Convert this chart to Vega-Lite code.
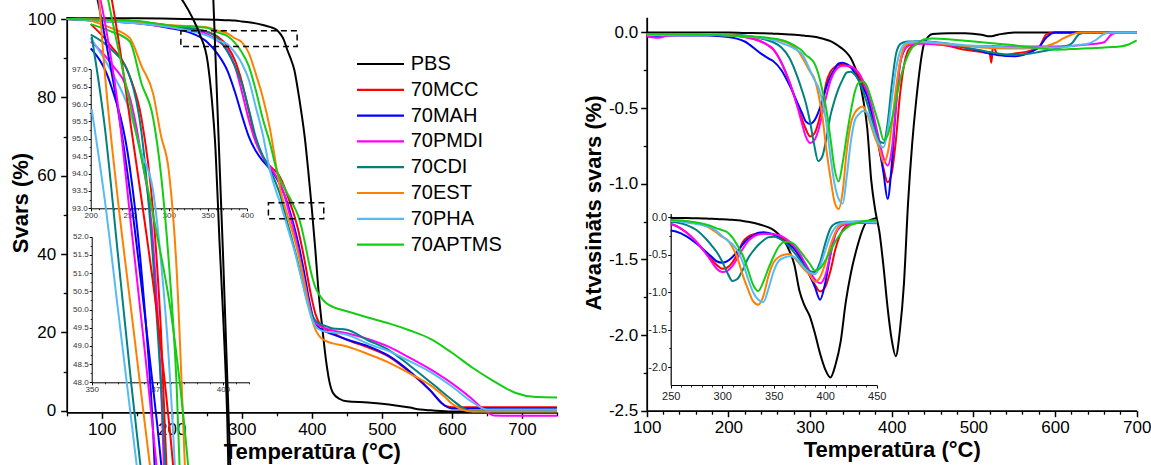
{
"$schema": "https://vega.github.io/schema/vega-lite/v6.json",
"width": 1151, "height": 465, "padding": 0,
"autosize": {"type": "none"},
"config": {
  "view": {"stroke": null},
  "font": "Liberation Sans",
  "axis": {"grid": false, "labelFont": "Liberation Sans", "titleFont": "Liberation Sans", "labelColor": "#000", "titleColor": "#000", "domainColor": "#000", "tickColor": "#000", "labelFlush": false, "labelOverlap": false, "labelBound": false, "titleFontWeight": "bold"}
},
"datasets": {
"tga": [
{"T":50,"PBS":100.3,"70MCC":100,"70MAH":100,"70PMDI":100,"70CDI":100,"70EST":100,"70PHA":100,"70APTMS":100},
{"T":100,"PBS":100.2,"70MCC":99.8,"70MAH":99.5,"70PMDI":99.5,"70CDI":99.8,"70EST":99.8,"70PHA":99.5,"70APTMS":99.8},
{"T":150,"PBS":100.2,"70MCC":99.4,"70MAH":98.9,"70PMDI":99.0,"70CDI":99.4,"70EST":99.3,"70PHA":98.9,"70APTMS":99.5},
{"T":200,"PBS":100.1,"70MCC":98.3,"70MAH":97.6,"70PMDI":97.8,"70CDI":98.0,"70EST":98.4,"70PHA":97.9,"70APTMS":98.3},
{"T":225,"PBS":100.0,"70MCC":97.7,"70MAH":96.6,"70PMDI":97.2,"70CDI":97.6,"70EST":98.2,"70PHA":97.0,"70APTMS":98.1},
{"T":250,"PBS":99.9,"70MCC":96.8,"70MAH":94.2,"70PMDI":96.2,"70CDI":96.8,"70EST":97.9,"70PHA":95.8,"70APTMS":97.8},
{"T":265,"PBS":99.8,"70MCC":95.6,"70MAH":91.2,"70PMDI":94.5,"70CDI":95.2,"70EST":97.1,"70PHA":94.6,"70APTMS":96.6},
{"T":280,"PBS":99.7,"70MCC":92.9,"70MAH":86.6,"70PMDI":92.0,"70CDI":91.5,"70EST":96.3,"70PHA":93.5,"70APTMS":95.6},
{"T":290,"PBS":99.6,"70MCC":89.5,"70MAH":81.5,"70PMDI":88.0,"70CDI":88.0,"70EST":95.1,"70PHA":91.5,"70APTMS":94.0},
{"T":300,"PBS":99.4,"70MCC":84.0,"70MAH":75.5,"70PMDI":81.5,"70CDI":83.5,"70EST":94.1,"70PHA":88.7,"70APTMS":91.5},
{"T":310,"PBS":99.2,"70MCC":76.5,"70MAH":70.0,"70PMDI":74.3,"70CDI":77.0,"70EST":91.3,"70PHA":84.5,"70APTMS":88.0},
{"T":320,"PBS":98.9,"70MCC":69.2,"70MAH":66.3,"70PMDI":68.5,"70CDI":69.8,"70EST":86.0,"70PHA":77.5,"70APTMS":81.8},
{"T":330,"PBS":98.5,"70MCC":65.0,"70MAH":63.8,"70PMDI":64.8,"70CDI":65.0,"70EST":80.0,"70PHA":70.5,"70APTMS":74.5},
{"T":340,"PBS":98.0,"70MCC":62.5,"70MAH":61.8,"70PMDI":62.3,"70CDI":61.5,"70EST":72.2,"70PHA":61.5,"70APTMS":68.5},
{"T":350,"PBS":97.2,"70MCC":60.8,"70MAH":59.3,"70PMDI":59.6,"70CDI":57.5,"70EST":61.5,"70PHA":55.5,"70APTMS":61.3},
{"T":355,"PBS":96.2,"70MCC":59.5,"70MAH":57.5,"70PMDI":57.9,"70CDI":55.0,"70EST":56.5,"70PHA":53.0,"70APTMS":59.0},
{"T":360,"PBS":94.7,"70MCC":57.5,"70MAH":55.5,"70PMDI":55.6,"70CDI":51.5,"70EST":53.0,"70PHA":50.0,"70APTMS":57.2},
{"T":365,"PBS":92.1,"70MCC":55.0,"70MAH":53.0,"70PMDI":52.3,"70CDI":48.0,"70EST":50.0,"70PHA":47.0,"70APTMS":55.5},
{"T":370,"PBS":89.8,"70MCC":52.5,"70MAH":50.0,"70PMDI":49.0,"70CDI":44.8,"70EST":47.0,"70PHA":44.0,"70APTMS":53.8},
{"T":375,"PBS":87.0,"70MCC":49.8,"70MAH":46.8,"70PMDI":45.5,"70CDI":41.5,"70EST":44.0,"70PHA":41.0,"70APTMS":52.0},
{"T":380,"PBS":82.0,"70MCC":46.5,"70MAH":43.2,"70PMDI":41.5,"70CDI":38.0,"70EST":40.5,"70PHA":37.5,"70APTMS":50.0},
{"T":385,"PBS":76.2,"70MCC":42.5,"70MAH":39.0,"70PMDI":37.0,"70CDI":34.2,"70EST":36.5,"70PHA":33.8,"70APTMS":47.0},
{"T":390,"PBS":69.6,"70MCC":38.0,"70MAH":34.3,"70PMDI":32.5,"70CDI":30.4,"70EST":32.0,"70PHA":30.0,"70APTMS":43.0},
{"T":395,"PBS":61.0,"70MCC":33.0,"70MAH":29.3,"70PMDI":28.0,"70CDI":27.0,"70EST":27.5,"70PHA":26.5,"70APTMS":38.5},
{"T":400,"PBS":51.5,"70MCC":28.5,"70MAH":25.0,"70PMDI":24.5,"70CDI":24.5,"70EST":23.5,"70PHA":23.5,"70APTMS":34.5},
{"T":405,"PBS":41.0,"70MCC":24.8,"70MAH":22.3,"70PMDI":22.5,"70CDI":23.0,"70EST":20.8,"70PHA":21.6,"70APTMS":31.5},
{"T":410,"PBS":29.5,"70MCC":22.6,"70MAH":21.2,"70PMDI":21.8,"70CDI":22.3,"70EST":19.2,"70PHA":20.8,"70APTMS":29.8},
{"T":415,"PBS":21.0,"70MCC":21.5,"70MAH":20.6,"70PMDI":21.3,"70CDI":21.9,"70EST":18.3,"70PHA":20.4,"70APTMS":28.5},
{"T":420,"PBS":13.2,"70MCC":20.8,"70MAH":20.2,"70PMDI":21.0,"70CDI":21.6,"70EST":17.8,"70PHA":20.2,"70APTMS":27.6},
{"T":425,"PBS":7.5},
{"T":430,"PBS":4.6,"70MCC":19.8,"70MAH":19.5,"70PMDI":20.5,"70CDI":21.0,"70EST":17.2,"70PHA":20.0,"70APTMS":26.5},
{"T":440,"PBS":3.0},
{"T":450,"PBS":2.4,"70MCC":18.1,"70MAH":18.2,"70PMDI":19.8,"70CDI":20.7,"70EST":16.4,"70PHA":19.4,"70APTMS":25.4},
{"T":480,"PBS":2.1,"70MCC":16.2,"70MAH":16.5,"70PMDI":18.3,"70CDI":18.0,"70EST":14.5,"70PHA":17.1,"70APTMS":23.8},
{"T":510,"PBS":1.6,"70MCC":13.8,"70MAH":14.0,"70PMDI":16.3,"70CDI":15.5,"70EST":12.3,"70PHA":15.2,"70APTMS":22.3},
{"T":540,"PBS":0.8,"70MCC":9.8,"70MAH":10.0,"70PMDI":13.5,"70CDI":11.5,"70EST":9.5,"70PHA":12.6,"70APTMS":20.5},
{"T":555,"PBS":0.3},
{"T":570,"PBS":0.1,"70MCC":5.0,"70MAH":5.0,"70PMDI":10.5,"70CDI":7.2,"70EST":6.4,"70PHA":9.8,"70APTMS":18.3},
{"T":585,"70MAH":2.0},
{"T":590,"70MCC":1.3,"70EST":3.5},
{"T":600,"PBS":-0.2,"70MCC":0.9,"70MAH":0.6,"70PMDI":7.0,"70CDI":2.8,"70EST":1.8,"70PHA":6.2,"70APTMS":14.8},
{"T":605,"70EST":1.2},
{"T":615,"70CDI":0.8},
{"T":620,"70EST":0.0},
{"T":630,"PBS":-0.2,"70MCC":0.9,"70MAH":0.6,"70PMDI":2.8,"70CDI":-0.2,"70EST":-0.2,"70PHA":2.1,"70APTMS":10.9},
{"T":645,"70PMDI":0.3},
{"T":650,"70PHA":0.3},
{"T":660,"PBS":-0.2,"70MCC":0.9,"70MAH":0.6,"70PMDI":-1.2,"70CDI":-0.2,"70EST":-0.2,"70PHA":0.3,"70APTMS":7.5},
{"T":690,"PBS":-0.2,"70MCC":0.9,"70MAH":0.6,"70PMDI":-1.3,"70CDI":-0.2,"70EST":-0.2,"70PHA":0.3,"70APTMS":4.6},
{"T":720,"PBS":-0.2,"70MCC":0.9,"70MAH":0.6,"70PMDI":-1.3,"70CDI":-0.2,"70EST":-0.2,"70PHA":0.3,"70APTMS":3.5},
{"T":750,"PBS":-0.2,"70MCC":0.9,"70MAH":0.6,"70PMDI":-1.3,"70CDI":-0.2,"70EST":-0.2,"70PHA":0.3,"70APTMS":3.4}
],
"dtg": [
{"T":100,"PBS":0,"70MCC":-0.01,"70MAH":-0.025,"70PMDI":-0.025,"70CDI":-0.01,"70EST":-0.01,"70PHA":-0.015,"70APTMS":-0.01},
{"T":115,"PBS":0,"70MCC":-0.012,"70MAH":-0.03,"70PMDI":-0.035,"70CDI":-0.012,"70EST":-0.01,"70PHA":-0.018,"70APTMS":-0.01},
{"T":125,"PBS":0,"70MCC":-0.015,"70MAH":-0.02,"70PMDI":-0.02,"70CDI":-0.01,"70EST":-0.01,"70PHA":-0.015,"70APTMS":-0.01},
{"T":150,"PBS":0,"70MCC":-0.012,"70MAH":-0.02,"70PMDI":-0.015,"70CDI":-0.01,"70EST":-0.01,"70PHA":-0.015,"70APTMS":-0.012},
{"T":175,"PBS":0,"70MCC":-0.012,"70MAH":-0.02,"70PMDI":-0.015,"70CDI":-0.01,"70EST":-0.01,"70PHA":-0.015,"70APTMS":-0.015},
{"T":200,"PBS":0,"70MCC":-0.018,"70MAH":-0.03,"70PMDI":-0.02,"70CDI":-0.015,"70EST":-0.015,"70PHA":-0.02,"70APTMS":-0.02},
{"T":220,"PBS":-0.003,"70MCC":-0.03,"70MAH":-0.06,"70PMDI":-0.03,"70CDI":-0.02,"70EST":-0.025,"70PHA":-0.025,"70APTMS":-0.025},
{"T":240,"PBS":-0.005,"70MCC":-0.06,"70MAH":-0.14,"70PMDI":-0.06,"70CDI":-0.04,"70EST":-0.035,"70PHA":-0.035,"70APTMS":-0.03},
{"T":250,"PBS":-0.007,"70MCC":-0.09,"70MAH":-0.175,"70PMDI":-0.09,"70CDI":-0.055,"70EST":-0.042,"70PHA":-0.045,"70APTMS":-0.037},
{"T":255,"PBS":-0.008,"70MCC":-0.114,"70MAH":-0.19,"70PMDI":-0.11,"70CDI":-0.065,"70EST":-0.045,"70PHA":-0.05,"70APTMS":-0.04},
{"T":265,"PBS":-0.01,"70MCC":-0.2,"70MAH":-0.25,"70PMDI":-0.2,"70CDI":-0.1,"70EST":-0.055,"70PHA":-0.07,"70APTMS":-0.05},
{"T":275,"PBS":-0.013,"70MCC":-0.33,"70MAH":-0.35,"70PMDI":-0.33,"70CDI":-0.17,"70EST":-0.075,"70PHA":-0.09,"70APTMS":-0.07},
{"T":285,"PBS":-0.017,"70MCC":-0.49,"70MAH":-0.47,"70PMDI":-0.5,"70CDI":-0.3,"70EST":-0.12,"70PHA":-0.12,"70APTMS":-0.1},
{"T":290,"PBS":-0.02,"70MCC":-0.57,"70MAH":-0.53,"70PMDI":-0.6,"70CDI":-0.38,"70EST":-0.16,"70PHA":-0.14,"70APTMS":-0.12},
{"T":295,"PBS":-0.023,"70MCC":-0.64,"70MAH":-0.59,"70PMDI":-0.69,"70CDI":-0.47,"70EST":-0.21,"70PHA":-0.19,"70APTMS":-0.15},
{"T":300,"PBS":-0.025,"70MCC":-0.687,"70MAH":-0.605,"70PMDI":-0.73,"70CDI":-0.59,"70EST":-0.26,"70PHA":-0.25,"70APTMS":-0.17},
{"T":305,"PBS":-0.028,"70MCC":-0.67,"70MAH":-0.585,"70PMDI":-0.715,"70CDI":-0.74,"70EST":-0.3,"70PHA":-0.31,"70APTMS":-0.2},
{"T":310,"PBS":-0.033,"70MCC":-0.6,"70MAH":-0.53,"70PMDI":-0.65,"70CDI":-0.85,"70EST":-0.4,"70PHA":-0.36,"70APTMS":-0.27},
{"T":315,"PBS":-0.04,"70MCC":-0.48,"70MAH":-0.45,"70PMDI":-0.54,"70CDI":-0.82,"70EST":-0.55,"70PHA":-0.45,"70APTMS":-0.38},
{"T":320,"PBS":-0.048,"70MCC":-0.33,"70MAH":-0.36,"70PMDI":-0.42,"70CDI":-0.7,"70EST":-0.775,"70PHA":-0.6,"70APTMS":-0.51},
{"T":325,"PBS":-0.058,"70MCC":-0.26,"70MAH":-0.29,"70PMDI":-0.32,"70CDI":-0.55,"70EST":-0.96,"70PHA":-0.82,"70APTMS":-0.7},
{"T":330,"PBS":-0.072,"70MCC":-0.23,"70MAH":-0.245,"70PMDI":-0.26,"70CDI":-0.45,"70EST":-1.12,"70PHA":-1.0,"70APTMS":-0.9},
{"T":335,"PBS":-0.09,"70MCC":-0.215,"70MAH":-0.205,"70PMDI":-0.23,"70CDI":-0.37,"70EST":-1.167,"70PHA":-1.1,"70APTMS":-0.985},
{"T":340,"PBS":-0.11,"70MCC":-0.213,"70MAH":-0.2,"70PMDI":-0.22,"70CDI":-0.31,"70EST":-1.05,"70PHA":-1.13,"70APTMS":-0.86},
{"T":345,"PBS":-0.135,"70MCC":-0.22,"70MAH":-0.21,"70PMDI":-0.22,"70CDI":-0.265,"70EST":-0.78,"70PHA":-0.95,"70APTMS":-0.68},
{"T":350,"PBS":-0.17,"70MCC":-0.23,"70MAH":-0.23,"70PMDI":-0.225,"70CDI":-0.26,"70EST":-0.6,"70PHA":-0.72,"70APTMS":-0.52},
{"T":355,"PBS":-0.23,"70MCC":-0.245,"70MAH":-0.27,"70PMDI":-0.24,"70CDI":-0.28,"70EST":-0.53,"70PHA":-0.58,"70APTMS":-0.39},
{"T":360,"PBS":-0.31,"70MCC":-0.29,"70MAH":-0.32,"70PMDI":-0.27,"70CDI":-0.32,"70EST":-0.5,"70PHA":-0.54,"70APTMS":-0.33},
{"T":365,"PBS":-0.44,"70MCC":-0.35,"70MAH":-0.37,"70PMDI":-0.32,"70CDI":-0.39,"70EST":-0.49,"70PHA":-0.52,"70APTMS":-0.325},
{"T":370,"PBS":-0.63,"70MCC":-0.42,"70MAH":-0.42,"70PMDI":-0.39,"70CDI":-0.47,"70EST":-0.54,"70PHA":-0.53,"70APTMS":-0.36},
{"T":375,"PBS":-0.98,"70MCC":-0.52,"70MAH":-0.52,"70PMDI":-0.48,"70CDI":-0.56,"70EST":-0.62,"70PHA":-0.6,"70APTMS":-0.44},
{"T":380,"PBS":-1.18,"70MCC":-0.64,"70MAH":-0.63,"70PMDI":-0.6,"70CDI":-0.65,"70EST":-0.7,"70PHA":-0.68,"70APTMS":-0.53},
{"T":385,"PBS":-1.32,"70MCC":-0.78,"70MAH":-0.77,"70PMDI":-0.72,"70CDI":-0.72,"70EST":-0.77,"70PHA":-0.74,"70APTMS":-0.62},
{"T":390,"PBS":-1.55,"70MCC":-0.9,"70MAH":-0.93,"70PMDI":-0.83,"70CDI":-0.73,"70EST":-0.86,"70PHA":-0.76,"70APTMS":-0.71},
{"T":395,"PBS":-1.82,"70MCC":-0.99,"70MAH":-1.1,"70PMDI":-0.88,"70CDI":-0.6,"70EST":-0.8,"70PHA":-0.65,"70APTMS":-0.68},
{"T":400,"PBS":-2.03,"70MCC":-0.93,"70MAH":-0.88,"70PMDI":-0.78,"70CDI":-0.35,"70EST":-0.62,"70PHA":-0.45,"70APTMS":-0.58},
{"T":405,"PBS":-2.14,"70MCC":-0.72,"70MAH":-0.5,"70PMDI":-0.5,"70CDI":-0.15,"70EST":-0.38,"70PHA":-0.25,"70APTMS":-0.45},
{"T":410,"PBS":-1.97,"70MCC":-0.42,"70MAH":-0.21,"70PMDI":-0.22,"70CDI":-0.08,"70EST":-0.2,"70PHA":-0.13,"70APTMS":-0.32},
{"T":415,"PBS":-1.66,"70MCC":-0.22,"70MAH":-0.12,"70PMDI":-0.12,"70CDI":-0.065,"70EST":-0.1,"70PHA":-0.08,"70APTMS":-0.22},
{"T":420,"PBS":-1.13,"70MCC":-0.12,"70MAH":-0.085,"70PMDI":-0.09,"70CDI":-0.06,"70EST":-0.075,"70PHA":-0.065,"70APTMS":-0.15},
{"T":425,"PBS":-0.74,"70MCC":-0.09,"70MAH":-0.065,"70PMDI":-0.08,"70CDI":-0.06,"70EST":-0.07,"70PHA":-0.062,"70APTMS":-0.1},
{"T":430,"PBS":-0.45,"70MCC":-0.075,"70MAH":-0.06,"70PMDI":-0.075,"70CDI":-0.06,"70EST":-0.065,"70PHA":-0.06,"70APTMS":-0.08},
{"T":440,"PBS":-0.07,"70MCC":-0.07,"70MAH":-0.06,"70PMDI":-0.075,"70CDI":-0.06,"70EST":-0.065,"70PHA":-0.062,"70APTMS":-0.045},
{"T":450,"PBS":-0.01,"70MCC":-0.075,"70MAH":-0.065,"70PMDI":-0.078,"70CDI":-0.063,"70EST":-0.07,"70PHA":-0.065,"70APTMS":-0.04},
{"T":470,"PBS":-0.005,"70MCC":-0.09,"70MAH":-0.08,"70PMDI":-0.085,"70CDI":-0.075,"70EST":-0.08,"70PHA":-0.075,"70APTMS":-0.045},
{"T":490,"PBS":-0.005,"70MCC":-0.115,"70MAH":-0.1,"70PMDI":-0.09,"70CDI":-0.1,"70EST":-0.09,"70PHA":-0.085,"70APTMS":-0.055},
{"T":510,"PBS":-0.015,"70MCC":-0.13,"70MAH":-0.125,"70PMDI":-0.09,"70CDI":-0.12,"70EST":-0.1,"70PHA":-0.09,"70APTMS":-0.065},
{"T":520,"PBS":-0.026,"70MCC":-0.14,"70MAH":-0.14,"70PMDI":-0.091,"70CDI":-0.13,"70EST":-0.103,"70PHA":-0.093,"70APTMS":-0.07},
{"T":522,"70MCC":-0.2},
{"T":524,"70MCC":-0.09},
{"T":530,"PBS":-0.015,"70MCC":-0.15,"70MAH":-0.15,"70PMDI":-0.092,"70CDI":-0.14,"70EST":-0.105,"70PHA":-0.095,"70APTMS":-0.075},
{"T":550,"PBS":0,"70MCC":-0.14,"70MAH":-0.158,"70PMDI":-0.093,"70CDI":-0.148,"70EST":-0.107,"70PHA":-0.1,"70APTMS":-0.085},
{"T":570,"PBS":0,"70MCC":-0.12,"70MAH":-0.13,"70PMDI":-0.093,"70CDI":-0.14,"70EST":-0.105,"70PHA":-0.1,"70APTMS":-0.098},
{"T":580,"PBS":0,"70MCC":-0.1,"70MAH":-0.1,"70PMDI":-0.093,"70CDI":-0.13,"70EST":-0.103,"70PHA":-0.1,"70APTMS":-0.104},
{"T":590,"PBS":0,"70MCC":-0.01,"70MAH":-0.03,"70PMDI":-0.093,"70CDI":-0.12,"70EST":-0.09,"70PHA":-0.1,"70APTMS":-0.11},
{"T":600,"PBS":0,"70MCC":0,"70MAH":0,"70PMDI":-0.093,"70CDI":-0.11,"70EST":-0.07,"70PHA":-0.1,"70APTMS":-0.114},
{"T":610,"70PMDI":-0.092,"70CDI":-0.095,"70EST":-0.04,"70PHA":-0.098,"70APTMS":-0.113},
{"T":620,"PBS":0,"70MCC":0,"70MAH":0,"70PMDI":-0.09,"70CDI":-0.075,"70EST":-0.015,"70PHA":-0.09,"70APTMS":-0.11},
{"T":630,"PBS":0,"70MCC":0,"70MAH":0,"70PMDI":-0.085,"70CDI":-0.01,"70EST":0,"70PHA":-0.082,"70APTMS":-0.108},
{"T":640,"PBS":0,"70MCC":0,"70MAH":0,"70PMDI":-0.08,"70CDI":0,"70EST":0,"70PHA":-0.075,"70APTMS":-0.105},
{"T":650,"PBS":0,"70MCC":0,"70MAH":0,"70PMDI":-0.075,"70CDI":0,"70EST":0,"70PHA":-0.05,"70APTMS":-0.103},
{"T":660,"PBS":0,"70MCC":0,"70MAH":0,"70PMDI":-0.065,"70CDI":0,"70EST":0,"70PHA":-0.01,"70APTMS":-0.1},
{"T":670,"PBS":0,"70MCC":0,"70MAH":0,"70PMDI":-0.01,"70CDI":0,"70EST":0,"70PHA":0,"70APTMS":-0.097},
{"T":680,"PBS":0,"70MCC":0,"70MAH":0,"70PMDI":0,"70CDI":0,"70EST":0,"70PHA":0,"70APTMS":-0.093},
{"T":690,"PBS":0,"70MCC":0,"70MAH":0,"70PMDI":0,"70CDI":0,"70EST":0,"70PHA":0,"70APTMS":-0.08},
{"T":700,"PBS":0,"70MCC":0,"70MAH":0,"70PMDI":0,"70CDI":0,"70EST":0,"70PHA":0,"70APTMS":-0.053}
]
},
"layer": [
{
 "layer": [
  {
   "data": {"name": "tga"},
   "transform": [{"fold": ["PBS","70MCC","70MAH","70PMDI","70CDI","70EST","70PHA","70APTMS"], "as": ["series","w"]}, {"filter": "isValid(datum.w)"}],
   "mark": {"type": "line", "strokeWidth": 2, "interpolate": "monotone"},
   "encoding": {
    "x": {"field": "T", "type": "quantitative", "scale": {"domain": [50,750], "range": [66.7,557], "nice": false},
      "axis": {"orient": "bottom", "offset": -52.7, "values": [100,200,300,400,500,600,700], "title": "Temperatūra (°C)", "titleFontSize": 22, "titlePadding": 4, "labelFontSize": 17, "labelPadding": 3, "tickSize": 6, "tickWidth": 1.5, "domainWidth": 1.8}},
    "y": {"field": "w", "type": "quantitative", "scale": {"domain": [-0.4,100.6], "range": [412.3,16.7], "nice": false, "zero": false},
      "axis": {"orient": "left", "offset": -66.7, "values": [0,20,40,60,80,100], "title": "Svars (%)", "titleFontSize": 22, "titleX": -38.7, "titleY": 202.5, "titleAngle": -90, "titleAlign": "center", "titleBaseline": "alphabetic", "labelFontSize": 17, "labelPadding": 5, "tickSize": 6, "tickWidth": 1.5, "domainWidth": 1.8}},
    "color": {"field": "series", "type": "nominal",
      "scale": {"domain": ["PBS","70MCC","70MAH","70PMDI","70CDI","70EST","70PHA","70APTMS"], "range": ["#000000","#FF0000","#0000FF","#FF00FF","#008080","#FF8000","#55BBF5","#14CC14"]},
      "legend": {"orient": "none", "legendX": 369, "legendY": 52.5, "title": null, "symbolType": "M-2.35,0H2.35", "symbolSize": 400, "symbolStrokeWidth": 2.2, "labelFontSize": 20, "labelFont": "Liberation Sans", "labelColor": "#000", "rowPadding": 3.8, "labelOffset": 18.7, "padding": 0}}
   }
  },
  {
   "data": {"values": [{"x1": 213, "x2": 379, "y1": 93, "y2": 97}, {"x1": 338, "x2": 417, "y1": 49, "y2": 53.1}]},
   "mark": {"type": "rect", "fillOpacity": 0, "stroke": "#000", "strokeWidth": 1.5, "strokeDash": [6,4]},
   "encoding": {
    "x": {"field": "x1", "type": "quantitative"}, "x2": {"field": "x2"},
    "y": {"field": "y1", "type": "quantitative"}, "y2": {"field": "y2"}
   }
  },
  {
   "mark": {"type": "text", "text": "(a)", "fontSize": 28, "fontWeight": "bold", "font": "Liberation Sans", "align": "center", "baseline": "middle", "color": "#000"},
   "encoding": {"x": {"datum": 715, "type": "quantitative"}, "y": {"datum": 94.2, "type": "quantitative"}}
  }
 ]
},
{
 "mark": {"type": "rect", "fillOpacity": 0, "stroke": "#333", "strokeWidth": 1.8},
 "encoding": {
  "x": {"datum": 50, "type": "quantitative", "scale": {"domain": [50,750], "range": [66.7,557], "nice": false},
    "axis": {"orient": "bottom", "offset": -52.7, "values": [50,150,250,350,450,550,650,750], "labels": false, "domain": false, "tickSize": 3.5, "tickWidth": 1.3, "title": null}},
  "x2": {"datum": 750},
  "y": {"datum": -0.4, "type": "quantitative", "scale": {"domain": [-0.4,100.6], "range": [412.3,16.7], "nice": false, "zero": false},
    "axis": {"orient": "left", "offset": -66.7, "values": [10,30,50,70,90], "labels": false, "domain": false, "tickSize": 3.5, "tickWidth": 1.3, "title": null}},
  "y2": {"datum": 100.6}
 }
},
{
 "data": {"name": "tga"},
 "transform": [{"fold": ["PBS","70MCC","70MAH","70PMDI","70CDI","70EST","70PHA","70APTMS"], "as": ["series","w"]}, {"filter": "isValid(datum.w) && datum.T >= 200 && datum.T <= 400"}],
 "mark": {"type": "line", "strokeWidth": 2, "interpolate": "monotone"},
 "encoding": {
  "x": {"field": "T", "type": "quantitative", "scale": {"domain": [200,400], "range": [90.7,246.7], "nice": false},
    "axis": {"orient": "bottom", "offset": -256.7, "values": [200,250,300,350,400], "labelFontSize": 8, "labelPadding": 1, "labelColor": "#333", "tickSize": 2.5, "tickWidth": 1, "domainWidth": 1, "title": null}},
  "y": {"field": "w", "type": "quantitative", "scale": {"domain": [93,97], "range": [208.3,69.3], "nice": false, "zero": false},
    "axis": {"orient": "left", "offset": -90.7, "values": [93,93.5,94,94.5,95,95.5,96,96.5,97], "format": ".1f", "labelFontSize": 8, "labelPadding": 1, "labelColor": "#333", "tickSize": 2.5, "tickWidth": 1, "domainWidth": 1, "title": null}},
  "color": {"field": "series", "type": "nominal"}
 }
},
{
 "mark": {"type": "rule", "stroke": "#000", "strokeWidth": 1, "strokeDash": [4,3]},
 "encoding": {
  "x": {"datum": 200, "type": "quantitative", "scale": {"domain": [200,400], "range": [90.7,246.7], "nice": false},
    "axis": {"orient": "bottom", "offset": -256.7, "values": [210,220,230,240,260,270,280,290,310,320,330,340,360,370,380,390], "labels": false, "domain": false, "tickSize": 1.5, "tickWidth": 0.8, "title": null}},
  "x2": {"datum": 400},
  "y": {"datum": 95, "type": "quantitative", "scale": {"domain": [93,97], "range": [208.3,69.3], "nice": false, "zero": false},
    "axis": {"orient": "left", "offset": -90.7, "values": [93.25,93.75,94.25,94.75,95.25,95.75,96.25,96.75], "labels": false, "domain": false, "tickSize": 1.5, "tickWidth": 0.8, "title": null}}
 }
},
{
 "data": {"name": "tga"},
 "transform": [{"fold": ["PBS","70MCC","70MAH","70PMDI","70CDI","70EST","70PHA","70APTMS"], "as": ["series","w"]}, {"filter": "isValid(datum.w) && datum.T >= 350 && datum.T <= 410"}],
 "mark": {"type": "line", "strokeWidth": 2, "interpolate": "monotone"},
 "encoding": {
  "x": {"field": "T", "type": "quantitative", "scale": {"domain": [350,410], "range": [91.7,249.3], "nice": false},
    "axis": {"orient": "bottom", "offset": -82.7, "values": [350,375,400], "labelFontSize": 8, "labelPadding": 1, "labelColor": "#333", "tickSize": 2.5, "tickWidth": 1, "domainWidth": 1, "title": null}},
  "y": {"field": "w", "type": "quantitative", "scale": {"domain": [48,52], "range": [382.3,236.7], "nice": false, "zero": false},
    "axis": {"orient": "left", "offset": -91.7, "values": [48,48.5,49,49.5,50,50.5,51,51.5,52], "format": ".1f", "labelFontSize": 8, "labelPadding": 1, "labelColor": "#333", "tickSize": 2.5, "tickWidth": 1, "domainWidth": 1, "title": null}},
  "color": {"field": "series", "type": "nominal"}
 }
},
{
 "mark": {"type": "rule", "stroke": "#000", "strokeWidth": 1, "strokeDash": [4,3]},
 "encoding": {
  "x": {"datum": 350, "type": "quantitative", "scale": {"domain": [350,410], "range": [91.7,249.3], "nice": false},
    "axis": {"orient": "bottom", "offset": -82.7, "values": [355,360,365,370,380,385,390,395,405,410], "labels": false, "domain": false, "tickSize": 1.5, "tickWidth": 0.8, "title": null}},
  "x2": {"datum": 410},
  "y": {"datum": 50, "type": "quantitative", "scale": {"domain": [48,52], "range": [382.3,236.7], "nice": false, "zero": false},
    "axis": {"orient": "left", "offset": -91.7, "values": [48.25,48.75,49.25,49.75,50.25,50.75,51.25,51.75], "labels": false, "domain": false, "tickSize": 1.5, "tickWidth": 0.8, "title": null}}
 }
},
{
 "layer": [
  {
   "data": {"name": "dtg"},
   "transform": [{"fold": ["PBS","70MCC","70MAH","70PMDI","70CDI","70EST","70PHA","70APTMS"], "as": ["series","w"]}, {"filter": "isValid(datum.w)"}],
   "mark": {"type": "line", "strokeWidth": 2, "interpolate": "monotone"},
   "encoding": {
    "x": {"field": "T", "type": "quantitative", "scale": {"domain": [100,700], "range": [646.7,1136.7], "nice": false},
      "axis": {"orient": "bottom", "offset": -54.3, "values": [100,200,300,400,500,600,700], "title": "Temperatūra (°C)", "titleFontSize": 22, "titlePadding": 4, "labelFontSize": 17, "labelPadding": 3, "tickSize": 6, "tickWidth": 1.5, "domainWidth": 1.8}},
    "y": {"field": "w", "type": "quantitative", "scale": {"domain": [-2.5,0.1], "range": [410.7,17.3], "nice": false, "zero": false},
      "axis": {"orient": "left", "offset": -646.7, "values": [-2.5,-2,-1.5,-1,-0.5,0], "labelExpr": "replace(format(datum.value,'.1f'),'−','-')", "title": "Atvasināts svars (%)", "titleFontSize": 22, "titleX": -46.7, "titleY": 202.5, "titleAngle": -90, "titleAlign": "center", "titleBaseline": "alphabetic", "labelFontSize": 17, "labelPadding": 3, "tickSize": 6, "tickWidth": 1.5, "domainWidth": 1.8}},
    "color": {"field": "series", "type": "nominal"}
   }
  },
  {
   "mark": {"type": "text", "text": "(b)", "fontSize": 28, "fontWeight": "bold", "font": "Liberation Sans", "align": "center", "baseline": "middle", "color": "#000"},
   "encoding": {"x": {"datum": 667.3, "type": "quantitative"}, "y": {"datum": -0.318, "type": "quantitative"}}
  }
 ]
},
{
 "mark": {"type": "rect", "fillOpacity": 0, "stroke": "#333", "strokeWidth": 1.8},
 "encoding": {
  "x": {"datum": 100, "type": "quantitative", "scale": {"domain": [100,700], "range": [646.7,1136.7], "nice": false},
    "axis": {"orient": "bottom", "offset": -54.3, "values": [120,140,160,180,220,240,260,280,320,340,360,380,420,440,460,480,520,540,560,580,620,640,660,680], "labels": false, "domain": false, "tickSize": 3.5, "tickWidth": 1.3, "title": null}},
  "x2": {"datum": 700},
  "y": {"datum": -2.5, "type": "quantitative", "scale": {"domain": [-2.5,0.1], "range": [410.7,17.3], "nice": false, "zero": false},
    "axis": {"orient": "left", "offset": -646.7, "values": [-2.25,-1.75,-1.25,-0.75,-0.25], "labels": false, "domain": false, "tickSize": 3.5, "tickWidth": 1.3, "title": null}},
  "y2": {"datum": 0.1}
 }
},
{
 "data": {"name": "dtg"},
 "transform": [{"fold": ["PBS","70MCC","70MAH","70PMDI","70CDI","70EST","70PHA","70APTMS"], "as": ["series","w"]}, {"filter": "isValid(datum.w) && datum.T >= 250 && datum.T <= 450"}],
 "mark": {"type": "line", "strokeWidth": 2, "interpolate": "monotone"},
 "encoding": {
  "x": {"field": "T", "type": "quantitative", "scale": {"domain": [250,450], "range": [670.7,876.7], "nice": false},
    "axis": {"orient": "bottom", "offset": -80, "values": [250,300,350,400,450], "labelFontSize": 11, "labelPadding": 2, "labelColor": "#222", "tickSize": 3, "tickWidth": 1, "domainWidth": 1.2, "title": null}},
  "y": {"field": "w", "type": "quantitative", "scale": {"domain": [-2.24,0.05], "range": [385,213.6], "nice": false, "zero": false},
    "axis": {"orient": "left", "offset": -670.7, "values": [-2,-1.5,-1,-0.5,0], "labelExpr": "replace(format(datum.value,'.1f'),'−','-')", "labelFontSize": 11, "labelPadding": 1, "labelColor": "#222", "tickSize": 3, "tickWidth": 1, "domainWidth": 1.2, "title": null}},
  "color": {"field": "series", "type": "nominal"}
 }
},
{
 "mark": {"type": "rule", "strokeOpacity": 0},
 "encoding": {
  "x": {"datum": 250, "type": "quantitative", "scale": {"domain": [250,450], "range": [670.7,876.7], "nice": false},
    "axis": {"orient": "bottom", "offset": -80, "values": [260,270,280,290,310,320,330,340,360,370,380,390,410,420,430,440], "labels": false, "domain": false, "tickSize": 2, "tickWidth": 0.8, "title": null}},
  "x2": {"datum": 450},
  "y": {"datum": 0, "type": "quantitative", "scale": {"domain": [-2.24,0.05], "range": [385,213.6], "nice": false, "zero": false},
    "axis": {"orient": "left", "offset": -670.7, "values": [-0.25,-0.75,-1.25,-1.75], "labels": false, "domain": false, "tickSize": 2, "tickWidth": 0.8, "title": null}}
 }
}
],
"resolve": {"scale": {"x": "independent", "y": "independent"}, "axis": {"x": "independent", "y": "independent"}}
}
